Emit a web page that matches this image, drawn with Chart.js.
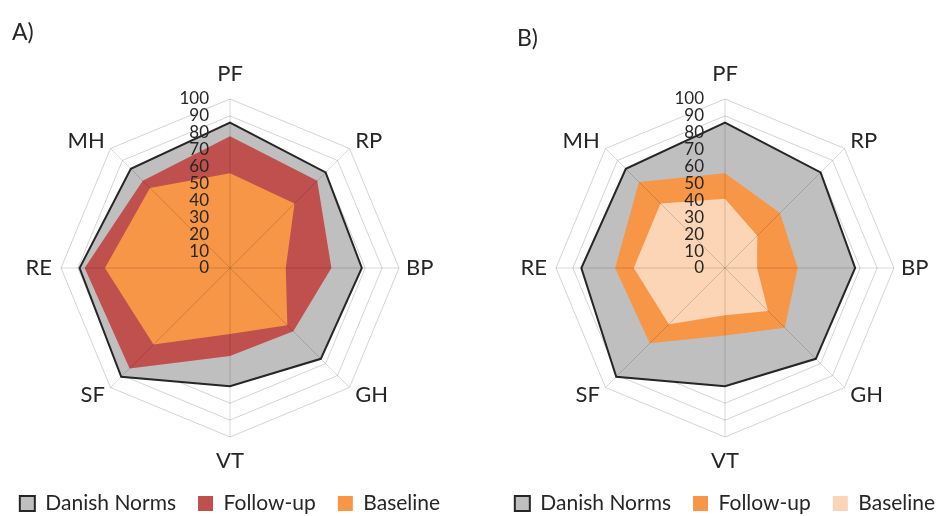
<!DOCTYPE html>
<html>
<head>
<meta charset="utf-8">
<script src="https://cdn.jsdelivr.net/npm/chart.js@4.4.1/dist/chart.umd.min.js"></script>
<style>
  html, body { margin: 0; padding: 0; background: #fff; width: 940px; height: 516px; overflow: hidden; position: relative; }
  .panel { position: absolute; top: 0; width: 560px; height: 516px; }
  #panelA { left: -45px; }
  #panelB { left: 450px; }
  .tag { position: absolute; font: 23px Lato, sans-serif; line-height: 23px; color: #262626; z-index: 2; }
</style>
</head>
<body>
<div class="panel" id="panelA"><canvas id="chartA" width="560" height="516"></canvas></div>
<div class="panel" id="panelB"><canvas id="chartB" width="560" height="516"></canvas></div>
<div class="tag" style="left:12px; top:20px;">A)</div>
<div class="tag" style="left:517px; top:26px;">B)</div>
<script>
// SF-36 domains
const domains = ['PF', 'RP', 'BP', 'GH', 'VT', 'SF', 'RE', 'MH'];
const tickValues = [0, 10, 20, 30, 40, 50, 60, 70, 80, 90, 100];
const seriesNames = ['Danish Norms', 'Follow-up', 'Baseline'];

// Group A
const normsA    = [86, 80, 78, 76, 70, 91, 89, 83];
const followUpA = [78, 73, 60, 53, 52, 84, 86, 73];
const baselineA = [56, 54, 33, 48, 39, 64, 74, 67];

// Group B
const normsB    = [86, 80, 77, 76, 70, 91, 85, 83];
const followUpB = [56, 46, 43, 50, 40, 63, 65, 72];
const baselineB = [41, 27, 19, 36, 28, 47, 54, 54];

// spacing of each domain name from the outer ring, and the height of its text box
const labelGap  = [22, 8, 7, 8, 16, 8, 9, 8];
const labelLine = ['6px', '4px', '4px', '4px', '16px', '4px', '4px', '4px'];

const TEXT = '#262626';

// spokes on top of the filled areas, and the value scale beside the vertical spoke
const overlay = {
  id: 'overlay',
  afterDatasetsDraw(chart) {
    const s = chart.scales.r;
    const ctx = chart.ctx;
    ctx.save();
    ctx.strokeStyle = 'rgba(0,0,0,0.15)';
    ctx.lineWidth = 1;
    const outer = s.getDistanceFromCenterForValue(s.max);
    for (let i = 0; i < chart.data.labels.length; i++) {
      const p = s.getPointPosition(i, outer);
      ctx.beginPath();
      ctx.moveTo(s.xCenter, s.yCenter);
      ctx.lineTo(p.x, p.y);
      ctx.stroke();
    }
    ctx.font = '17px Lato';
    ctx.fillStyle = TEXT;
    ctx.textAlign = 'right';
    ctx.textBaseline = 'middle';
    s.ticks.forEach(t => {
      const d = s.getDistanceFromCenterForValue(t.value);
      ctx.fillText(String(t.value), s.xCenter - 21, s.yCenter - d);
    });
    ctx.restore();
  }
};

function radar(id, values, colors) {
  const datasets = values.map((v, i) => ({
    label: seriesNames[i],
    data: v,
    fill: true,
    backgroundColor: colors[i],
    borderColor: i === 0 ? '#262626' : colors[i],
    borderWidth: i === 0 ? 2 : 0,
    pointRadius: 0,
    order: values.length - i
  }));
  return new Chart(document.getElementById(id), {
    type: 'radar',
    data: { labels: domains, datasets },
    options: {
      responsive: false,
      animation: false,
      events: [],
      layout: { padding: { top: 70, bottom: -8, left: 0, right: 10 } },
      elements: { line: { tension: 0 } },
      scales: {
        r: {
          min: 0,
          max: 100,
          afterBuildTicks: s => { s.ticks = tickValues.map(v => ({ value: v })); },
          ticks: { display: false, stepSize: 10 },
          grid: { color: '#d4d4d4', lineWidth: 1 },
          angleLines: { display: false },
          pointLabels: {
            display: true,
            color: TEXT,
            font: c => ({ family: 'Lato', size: 22, lineHeight: labelLine[c.index] }),
            padding: c => labelGap[c.index]
          }
        }
      },
      plugins: {
        tooltip: { enabled: false },
        legend: {
          position: 'bottom',
          labels: {
            color: TEXT,
            font: { family: 'Lato', size: 21 },
            boxWidth: 15,
            boxHeight: 15,
            padding: 22,
            sort: (a, b) => a.datasetIndex - b.datasetIndex
          }
        }
      }
    },
    plugins: [overlay]
  });
}

radar('chartA', [normsA, followUpA, baselineA], ['#bfbfbf', '#c0504d', '#f79646']);
radar('chartB', [normsB, followUpB, baselineB], ['#bfbfbf', '#f79646', '#fbd5b5']);
</script>
</body>
</html>
